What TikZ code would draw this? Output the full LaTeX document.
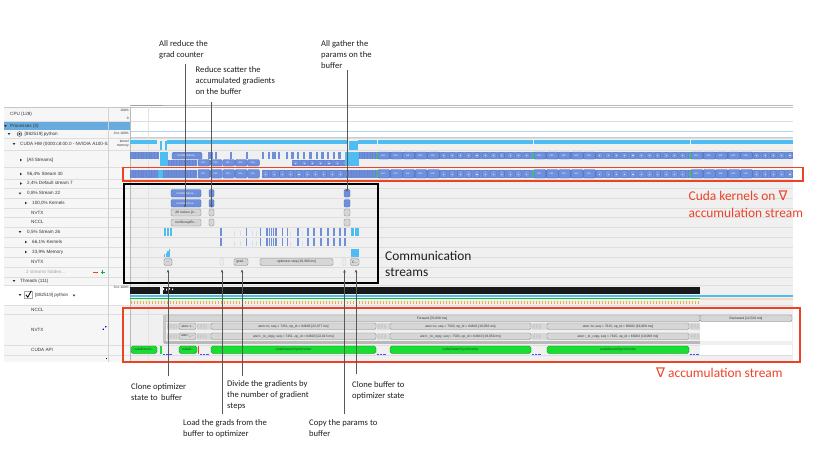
\documentclass[tikz,border=0pt]{standalone}
\usepackage{fontspec}
\setmainfont{Carlito}
\newfontfamily\uifont{Liberation Sans}
\newfontfamily\nablafont{DejaVu Sans}
\usetikzlibrary{arrows.meta}
\definecolor{annred}{RGB}{238,66,38}
\definecolor{kblue}{RGB}{110,143,219}
\definecolor{kblued}{RGB}{78,110,196}
\definecolor{kcyan}{RGB}{78,190,242}
\definecolor{kgreen}{RGB}{24,222,52}
\definecolor{panelbg}{RGB}{246,246,246}
\definecolor{tlbg}{RGB}{240,240,240}
\definecolor{rowline}{RGB}{222,222,222}
\definecolor{procblue}{RGB}{104,172,222}
\definecolor{nvgray}{RGB}{214,214,214}
\definecolor{nvborder}{RGB}{128,128,128}
\definecolor{uitext}{RGB}{50,50,50}
\definecolor{connector}{RGB}{88,88,88}
\definecolor{tickorange}{RGB}{244,170,60}
\definecolor{peach}{RGB}{250,214,190}
\newcommand\tlnode[7]{%
  \pgfmathsetmacro\cxx{(#3+#4)/2}\pgfmathsetmacro\cyy{(#5+#6)/2}%
  \pgfmathsetmacro\www{#4-#3}\pgfmathsetmacro\hhh{#6-#5}%
  \node[#1,minimum width=\www pt,minimum height=\hhh pt] (#2) at (\cxx,\cyy) {#7};}
\newcommand\densebars[4]{%
  \fill[kblue] (#1,#3) rectangle (#2,#4);
  \pgfmathsetmacro\nxx{#1+2.7}%
  \foreach \x in {#1,\nxx,...,#2}{\draw[kblued!85,line width=0.35pt] (\x,#3) -- (\x,#4);}}
\newcommand\volrun[3]{%
  \foreach \i in {0,...,4}{%
    \pgfmathsetmacro\xa{#1+\i*12.4}\pgfmathsetmacro\xb{\xa+11.8}%
    \tlnode{kbox}{vol#1y#2n\i}{\xa}{\xb}{#2+0.6}{#3-0.6}{vol...}}}
\newcommand\dotrun[4]{%
  \fill[kblue] (#1,#3) rectangle (#2,#4);
  \pgfmathsetmacro\nxx{#1+8.3}%
  \foreach \x in {#1,\nxx,...,#2}{%
    \draw[kblued,fill=kblue!92!white,line width=0.3pt,rounded corners=1pt] (\x+1,#3+0.8) rectangle ++(5.5,#4-#3-1.6);
    \draw[white!70!kblue,line width=0.25pt] (\x+3.2,#3/2+#4/2) -- (\x+4.3,#3/2+#4/2);}}
\newcommand\tailpattern[2]{%
  \volrun{378}{#1}{#2}\dotrun{440}{531}{#1}{#2}
  \volrun{534}{#1}{#2}\dotrun{596}{688}{#1}{#2}
  \volrun{691}{#1}{#2}\dotrun{753}{793}{#1}{#2}
  \foreach \g in {377,533,690}{\draw[kgreen,line width=0.6pt] (\g,#1) -- (\g,#2);}}
\newcommand\tdown[2]{\fill[uitext] (#1-1.3,#2-0.9) -- (#1+1.3,#2-0.9) -- (#1,#2+1.1) -- cycle;}
\newcommand\tright[2]{\fill[uitext] (#1-0.9,#2-1.3) -- (#1-0.9,#2+1.3) -- (#1+1.1,#2) -- cycle;}
\begin{document}
\begin{tikzpicture}[x=1pt,y=-1pt,
  rowlabel/.style={anchor=west,inner sep=0pt,font=\uifont\fontsize{4.6}{5.2}\selectfont,text=uitext},
  scalelabel/.style={anchor=east,inner sep=0pt,font=\uifont\fontsize{3.3}{3.9}\selectfont,text=uitext,align=right},
  nvbox/.style={draw=nvborder,fill=nvgray,rounded corners=1.3pt,line width=0.35pt,inner sep=0pt,font=\uifont\fontsize{3.3}{4}\selectfont,text=black!80},
  nvlight/.style={draw=gray!40,fill=gray!15,rounded corners=1pt,line width=0.3pt,inner sep=0pt},
  kbox/.style={draw=kblued,fill=kblue,rounded corners=1.2pt,line width=0.35pt,inner sep=0pt,font=\uifont\fontsize{2.7}{3}\selectfont,text=white},
  gbox/.style={draw=green!55!black,fill=kgreen,rounded corners=1.8pt,line width=0.35pt,inner sep=0pt,font=\uifont\fontsize{3.3}{4}\selectfont,text=black!80},
  note/.style={anchor=north west,inner sep=0pt,align=left,font=\fontsize{8.6}{11}\selectfont,text=black!88},
  bignote/.style={anchor=north west,inner sep=0pt,align=left,font=\fontsize{13.4}{16.4}\selectfont},
  pointer/.style={draw=connector,line width=0.75pt,-{Stealth[length=3.2pt,width=2.6pt]}},
  redframe/.style={draw=annred,line width=1.1pt},
  blackframe/.style={draw=black,line width=1.1pt}
]
\useasboundingbox (0,0) rectangle (830,467);
% ---------- screenshot backgrounds ----------
\fill[panelbg] (4,107) rectangle (130,362);
\fill[white] (130,103) rectangle (793,138);
\fill[tlbg] (130,138) rectangle (793,362);
\fill[white] (4,285) rectangle (130,305);
\fill[procblue] (4,122) rectangle (130,130);
\foreach \yy in {121,138,150,167,179,188,198,208,217,227,237,247,257,267,277,285,305,314,345,355}
  {\draw[rowline,line width=0.4pt] (4,\yy) -- (793,\yy);}
\draw[gray!45,line width=0.4pt] (4,107) -- (793,107);
\draw[procblue!50,line width=0.4pt] (130,131.5) -- (793,131.5);
\draw[gray!40,line width=0.4pt] (130,137) -- (793,137);
\draw[gray!35,line width=0.4pt] (108,107) -- (108,362);
\draw[gray!55,line width=0.4pt] (130,107) -- (130,362);
\draw[gray!22,line width=0.4pt] (148,107) -- (148,362);
% ruler
\draw[gray!55,line width=0.4pt] (130,105.5) -- (793,105.5);
\foreach \x in {132,136.2,...,793}{\draw[gray!55,line width=0.3pt] (\x,104.6) -- (\x,105.5);}
\draw[gray!75,line width=0.6pt] (131,105) -- (163,105);
% ---------- left panel labels ----------
\begin{scope}
\clip (4,107) rectangle (107.5,362);
\node[rowlabel] (lcpu) at (10,114) {CPU (128)};
\tdown{5.5}{126}
\node[rowlabel] (lproc) at (10,126) {Processes (3)};
\tdown{9}{134}
\draw[uitext,line width=0.4pt,fill=white] (19.5,134) circle (2.3);
\fill[uitext] (19.5,134) circle (1.1);
\node[rowlabel] (lpy) at (24.5,134) {[882519] python};
\tdown{14}{144}
\node[rowlabel] (lhw) at (20,144) {CUDA HW (0000:c8:00.0 - NVIDIA A100-SXM4};
\tright{21}{160}\node[rowlabel] (lall) at (27,160) {[All Streams]};
\tright{21}{174}\node[rowlabel] (ls30) at (27,174) {96,4\% Stream 30};
\tright{21}{183.5}\node[rowlabel] (ls7) at (27,183.5) {2,4\% Default stream 7};
\tdown{20}{193.5}\node[rowlabel] (ls22) at (27,193.5) {0,8\% Stream 22};
\tright{26}{203}\node[rowlabel] (lk22) at (32,203) {100,0\% Kernels};
\node[rowlabel] (lnv22) at (31,212.5) {NVTX};
\node[rowlabel] (lnc22) at (31,222) {NCCL};
\tdown{20}{232}\node[rowlabel] (ls26) at (27,232) {0,5\% Stream 26};
\tright{26}{242}\node[rowlabel] (lk26) at (32,242) {66,1\% Kernels};
\tright{26}{252}\node[rowlabel] (lm26) at (32,252) {33,9\% Memory};
\node[rowlabel] (lnv26) at (31,262) {NVTX};
\node[rowlabel,text=gray!70] (lhid) at (26,272) {2 streams hidden...};
\draw[annred,line width=0.7pt] (93,272) -- (97.5,272);
\draw[kgreen!80!black,line width=0.7pt] (100.5,272) -- (105,272) (102.75,269.75) -- (102.75,274.25);
\tdown{14}{281}\node[rowlabel] (lthr) at (20,281) {Threads (111)};
\tdown{20}{295}
\draw[gray!70,line width=0.4pt,fill=white] (24.5,291) rectangle (32,298.5);
\draw[black,line width=0.8pt] (25.8,294.8) -- (27.8,297.2) -- (31.2,290.8);
\node[rowlabel] (lpy2) at (35,295) {[882519] python};
\tdown{74}{295.5}
\node[rowlabel] (lncth) at (31,309.5) {NCCL};
\node[rowlabel] (lnvth) at (31,329.5) {NVTX};
\node[rowlabel] (lcuda) at (31,350) {CUDA API};
\fill[blue!60!black] (102.5,328.5) rectangle ++(1.4,1.4) (105,326) rectangle ++(1.4,1.4);
\fill[blue!60!black] (105.5,357.5) rectangle ++(1.2,1.2);
\end{scope}
% scale column labels
\node[scalelabel] (sc100) at (129,110) {100\%};
\node[scalelabel] (sc0) at (129,118) {0};
\node[scalelabel] (sc1) at (129,133.5) {0 to 100\%};
\node[scalelabel] (sckm) at (129,143.5) {kernel\\memory};
\node[scalelabel] (sc2) at (129,287.5) {0 to 100\%};
% ---------- kernel memory ----------
\fill[kcyan] (130,139.5) rectangle (157,144);
\fill[kcyan] (167,139.5) rectangle (348,144);
\fill[kcyan] (358,139.5) rectangle (793,144);
\fill[kcyan] (159.5,141) rectangle (161.5,150);
\fill[kcyan] (164.5,141) rectangle (167,150);
\fill[kcyan] (349,141) rectangle (358,150);
\foreach \g in {377,533,690}{\draw[white,line width=0.5pt] (\g,139.5) -- (\g,144);}
% ---------- [All Streams] ----------
\densebars{130}{159}{152}{159}
\fill[kcyan] (160,152) rectangle (168,166);
\densebars{168}{197}{159.5}{166}
\tlnode{kbox}{ksnccl}{172}{202}{152.4}{159}{ncclDevKerne...}
\volrun{198}{159.5}{166}
\dotrun{292}{345}{159.5}{166}
\foreach \x/\w in {208/4.5,215/2,230/1.5,246/2,262/1.5,268/2,272/4,278/2,286/2,291/3,297/2,303/2,309/2.5,316/2,321/2.5,327/2,333/2,338/2.5}
  {\fill[kblue] (\x,152) rectangle ++(\w,7);}
\fill[kcyan] (345,152) rectangle (359,166);
\densebars{359}{376}{152}{159}
\fill[kblue] (376,152) rectangle (793,159);
\tailpattern{152}{159}
% ---------- Stream 30 ----------
\densebars{130}{157}{169.5}{178}
\fill[kcyan] (158,169.5) rectangle (163,178);
\densebars{163}{197}{169.5}{178}
\volrun{198}{169.5}{178}
\dotrun{262}{348}{169.5}{178}
\densebars{348}{376}{169.5}{178}
\fill[kblue] (376,169.5) rectangle (793,178);
\tailpattern{169.5}{178}
% ---------- Stream 22 ----------
\tlnode{kbox}{k22a}{171}{201}{189.5}{197}{ncclDevKerne...}
\tlnode{kbox}{k22b}{171}{201}{199.5}{207}{ncclDevKerne...}
\tlnode{nvbox}{n22a}{171}{201}{209}{216}{All reduce [4...}
\tlnode{nvbox}{c22a}{171}{201}{219}{226}{ncclGroupEn...}
\tlnode{kbox}{k22c}{209}{214}{189.5}{197}{}
\tlnode{kbox}{k22d}{209}{214}{199.5}{207}{}
\tlnode{nvbox}{n22b}{209}{214}{209}{216}{}
\tlnode{nvbox}{c22b}{209}{214}{219}{226}{}
\tlnode{kbox}{k22e}{344}{350}{189.5}{197}{}
\tlnode{kbox}{k22f}{344}{350}{199.5}{207}{}
\tlnode{nvbox}{n22c}{344}{350}{209}{216}{}
\tlnode{nvbox}{c22c}{344}{350}{219}{226}{}
% ---------- Stream 26 ----------
\fill[kcyan] (164,228) rectangle (172,236);
\draw[white,line width=0.4pt] (166.5,228) -- (166.5,236) (169.5,228) -- (169.5,236);
\foreach \x/\w in {220/2.2,245.5/1.6,260/1.2,266/1.6,268.6/1.2,270.6/1.8,272.9/1.4,275.2/1.3,282/1.2,287/1.2,297/2.4,307/2,313/2.4,320/2.4,327/2,333/1.6,339/1.6,344/2.4}
  {\fill[kblue] (\x,228) rectangle ++(\w,8); \fill[kblue] (\x,238) rectangle ++(\w,8);}
\foreach \x in {234,240,252,256,290,302}{\fill[kblue!30] (\x,231) rectangle ++(0.8,5); \fill[kblue!30] (\x,241) rectangle ++(0.8,5);}
\fill[kcyan] (351,228) rectangle (359,236);
\draw[white,line width=0.4pt] (354,228) -- (354,236);
\foreach \x/\h in {164/2.5,165.6/4,167.2/6,168.8/8}{\fill[kcyan] (\x,256.5) rectangle ++(1.3,-\h);}
\fill[kcyan] (351,248.5) rectangle (359,256.5);
\tlnode{nvbox}{n26a}{164}{172}{258.5}{265.5}{...}
\tlnode{nvlight}{n26b}{220}{223.5}{258.5}{265.5}{}
\tlnode{nvbox}{n26c}{234}{248}{258.5}{265.5}{grad...}
\tlnode{nvbox}{n26d}{260}{333}{258.5}{265.5}{optimizer step [10,380 ms]}
\tlnode{nvlight}{n26e}{342.5}{346}{258.5}{265.5}{}
\tlnode{nvbox}{n26f}{350.5}{359}{258.5}{265.5}{C...}
% ---------- Threads ----------
\fill[black!90] (130,287) rectangle (160,294);
\fill[black!90] (162.5,287) rectangle (700,294);
\fill[white] (163,288) rectangle (164,290) (166,288.5) rectangle (167,290.5) (169,288) rectangle (170,289.5) (172,288.5) rectangle (173,290);
\fill[kcyan] (130,294.5) rectangle (793,297.3);
\fill[kgreen!85!black] (130,297.5) rectangle (700,299.3);
\fill[peach] (700,297.5) rectangle (793,299.8);
\foreach \x in {131,134,...,699}{\draw[tickorange,line width=0.5pt] (\x,300.8) -- (\x,303.6);}
% NVTX thread row
\tlnode{nvbox}{fwd}{164}{700}{315}{321.5}{Forward [70,938 ms]}
\tlnode{nvbox}{bwd}{700}{792}{315}{321.5}{Backward [12,520 ms]}
\fill[gray!45] (163,315) rectangle (166,343);
\fill[gray!55] (164,341) rectangle (700,343.5);
\fill[white] (700,322) rectangle (792,340.5);
\fill[white] (700,345) rectangle (792,354.5);
\foreach \a/\b in {167/178.5,197/210.5,376.5/389.5,531.5/546.5,689.5/699.5}
  {\fill[gray!30] (\a,323) rectangle (\b,329.5); \fill[gray!30] (\a,333) rectangle (\b,339.5);
   \foreach \k in {0,1.5,...,9}{\draw[gray!60,line width=0.25pt] (\a+\k,324) -- (\a+\k+0.6,328.5) (\a+\k,334) -- (\a+\k+0.6,338.5);}}
\tlnode{nvbox}{at1}{179}{196}{323}{329.5}{aten::t...}
\tlnode{nvbox}{at2}{211}{376}{323}{329.5}{aten::to, seq = 7451, op\_id = 64603 [22,077 ms]}
\tlnode{nvbox}{at3}{390}{531}{323}{329.5}{aten::to, seq = 7503, op\_id = 64842 [19,056 ms]}
\tlnode{nvbox}{at4}{547}{689}{323}{329.5}{aten::to, seq = 7615, op\_id = 65082 [19,069 ms]}
\tlnode{nvbox}{ac1}{179}{196}{333}{339.5}{aten::\_...}
\tlnode{nvbox}{ac2}{211}{376}{333}{339.5}{aten::\_to\_copy, seq = 7451, op\_id = 64603 [22,015 ms]}
\tlnode{nvbox}{ac3}{390}{531}{333}{339.5}{aten::\_to\_copy, seq = 7503, op\_id = 64843 [19,050 ms]}
\tlnode{nvbox}{ac4}{547}{689}{333}{339.5}{aten::\_to\_copy, seq = 7615, op\_id = 65083 [19,068 ms]}
% CUDA API row
\tlnode{gbox}{cu1}{131}{157}{346}{353.5}{cudaEventS...}
\fill[kgreen] (160,346) rectangle (162,353.5);
\tlnode{gbox}{cu2}{179}{197}{346}{353.5}{cudaS...}
\fill[annred] (198,346) rectangle (199,353.5);
\tlnode{gbox}{cu3}{211}{376}{346}{353.5}{cudaStreamSynchronize}
\tlnode{gbox}{cu4}{390}{531}{346}{353.5}{cudaStreamSynchronize}
\tlnode{gbox}{cu5}{547}{689}{346}{353.5}{cudaStreamSynchronize}
\foreach \a in {163,200,377,532,690}{\draw[blue!70,line width=0.4pt,densely dotted] (\a,354) -- ++(9,0);}
% ---------- annotation frames ----------
\draw[redframe] (123,167.5) rectangle (803,181);
\draw[blackframe] (124,184) rectangle (378,283);
\draw[redframe] (123,308) rectangle (800,362);
% ---------- annotation texts ----------
\node[bignote,text=annred] (tcuda) at (688.5,191) {Cuda kernels on {\nablafont ∇}\\accumulation stream};
\node[bignote,text=black!88] (tcomm) at (385,251) {Communication\\streams};
\node[bignote,text=annred] (tacc) at (656,368) {{\nablafont ∇} accumulation stream};
\node[note] (lab1) at (159,40.5) {All reduce the\\grad counter};
\node[note] (lab2) at (195.5,66) {Reduce scatter the\\accumulated gradients\\on the buffer};
\node[note] (lab3) at (321,40.5) {All gather the\\params on the\\buffer};
\node[note] (lab4) at (131,383.5) {Clone optimizer\\state to\, buffer};
\node[note] (lab5) at (227,380.5) {Divide the gradients by\\the number of gradient\\steps};
\node[note] (lab6) at (352,381) {Clone buffer to\\optimizer state};
\node[note] (lab7) at (183,419.5) {Load the grads from the\\buffer to optimizer};
\node[note] (lab8) at (309,419.5) {Copy the params to\\buffer};
% ---------- pointers ----------
\coordinate (p1s) at (185,64);   \coordinate (p1t) at (185,207.5);
\coordinate (p2s) at (211.5,102); \coordinate (p2t) at (211.5,207.5);
\coordinate (p3s) at (347,70);   \coordinate (p3t) at (347,192);
\coordinate (p4s) at (168,376);  \coordinate (p4t) at (168,269.5);
\coordinate (p5s) at (242,376);  \coordinate (p5t) at (242,269.5);
\coordinate (p6s) at (356,374);  \coordinate (p6t) at (356,269.5);
\coordinate (p7s) at (222,414);  \coordinate (p7t) at (222,269.5);
\coordinate (p8s) at (344.5,414);\coordinate (p8t) at (344.5,269.5);
\foreach \i in {1,...,8}{\draw[pointer] (p\i s) -- (p\i t);}
\end{tikzpicture}
\end{document}
